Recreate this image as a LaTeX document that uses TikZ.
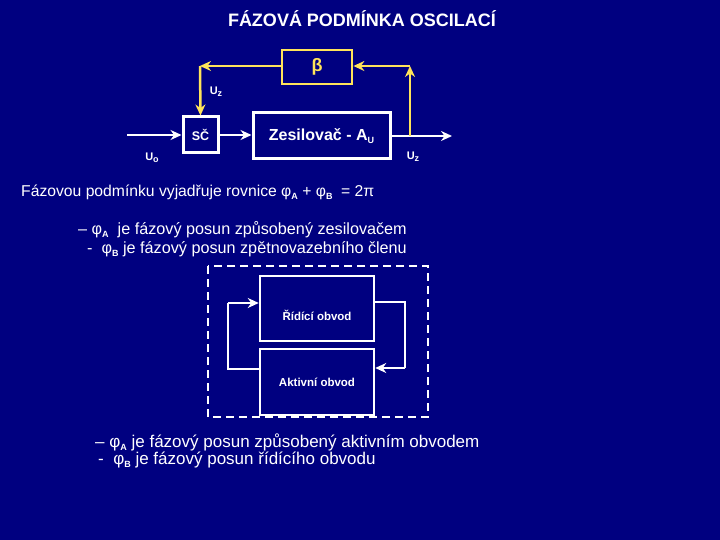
\documentclass[tikz,border=0pt]{standalone}
\usepackage{fontspec}
\setmainfont{Liberation Sans}
\usetikzlibrary{arrows.meta}
\definecolor{bg}{RGB}{0,0,128}
\definecolor{yel}{RGB}{255,228,90}
\newcommand\lsub[1]{\raisebox{-0.35ex}{\fontsize{9}{9}\selectfont\bfseries #1}}
\tikzset{
  wbox/.style={draw=white, line width=3pt, text=white, inner sep=0pt},
  ybox/.style={draw=yel, line width=2.8pt, text=yel, inner sep=0pt},
  wline/.style={draw=white, line width=2.5pt, -{Stealth[length=11pt,width=10pt]}},
  yline/.style={draw=yel, line width=2.5pt, -{Stealth[length=11pt,width=10pt]}},
  wplain/.style={draw=white, line width=2.5pt},
  lbl/.style={text=white, font=\bfseries\fontsize{11}{12}\selectfont, inner sep=0pt},
  txt/.style={text=white, anchor=west, inner sep=0pt, font=\fontsize{15.7}{17}\selectfont},
  txtb/.style={text=white, anchor=west, inner sep=0pt, font=\fontsize{16.2}{17}\selectfont},
  txtc/.style={text=white, anchor=west, inner sep=0pt, font=\fontsize{17}{18}\selectfont},
  small/.style={text=white, font=\bfseries\fontsize{11.5}{13}\selectfont, inner sep=0pt},
}
\begin{document}
\begin{tikzpicture}[x=1pt,y=-1pt]
\fill[bg] (0,0) rectangle (720,540);
\useasboundingbox (0,0) rectangle (720,540);

\node[text=white, font=\bfseries\fontsize{18}{20}\selectfont, inner sep=0pt] (title) at (362,19) {FÁZOVÁ PODMÍNKA OSCILACÍ};

% first block diagram
\node[ybox, minimum width=70pt, minimum height=34pt, font=\bfseries\fontsize{18}{20}\selectfont] (beta) at (317,67) {β};
\node[wbox, minimum width=35pt, minimum height=36pt, font=\bfseries\fontsize{12.5}{14}\selectfont] (sc) at (200.5,135) {SČ};
\node[wbox, minimum width=137pt, minimum height=46pt, font=\bfseries\fontsize{16}{18}\selectfont] (zes) at (321.5,136) {Zesilovač - A\lsub{U}};

\coordinate (in) at (127,135);
\coordinate (out) at (452,136);
\coordinate (tap) at (410,136);
\coordinate (cr) at (410,66);
\coordinate (cl) at (200,66);

\draw[wline] (in) -- (sc.west);
\draw[wline] (sc.east) -- (zes.west |- sc.east);
\draw[wline] (zes.east) -- (out);
\draw[yline] (tap) -- (cr);
\draw[yline] (cr) -- (beta.east |- cr);
\draw[yline] (beta.west |- cl) -- (cl);
\draw[yline] (cl) -- (sc.north);

\node[lbl] (uz1) at (216,92) {U\lsub{z}};
\node[lbl] (uo) at (152,158) {U\lsub{o}};
\node[lbl] (uz2) at (413,157) {U\lsub{z}};

% text
\node[txt] (t1) at (21,192) {Fázovou podmínku vyjadřuje rovnice φ\lsub{A} + φ\lsub{B}\ \ = 2π};
\node[txtb] (t2) at (78,230) {– φ\lsub{A}\ \ je fázový posun způsobený zesilovačem};
\node[txtb] (t3) at (87,249) {-\ \ φ\lsub{B} je fázový posun zpětnovazebního členu};

% second diagram
\draw[white, line width=2.8pt, dash pattern=on 8pt off 5pt] (208,266) rectangle (428,417);
\node[wbox, line width=2.5pt, minimum width=114pt, minimum height=65pt] (ridici) at (317,308.5) {};
\node[small] (lr) at (317,315) {Řídící obvod};
\node[wbox, line width=2.5pt, minimum width=114pt, minimum height=66pt] (aktiv) at (317,382) {};
\node[small] (la) at (317,382) {Aktivní obvod};

\coordinate (l1) at (228,369);
\coordinate (l2) at (228,303);
\coordinate (r1) at (405,302);
\coordinate (r2) at (405,368);
\draw[wplain] (aktiv.west |- l1) -- (l1) -- (l2);
\draw[wline] (l2) -- (ridici.west |- l2);
\draw[wplain] (ridici.east |- r1) -- (r1) -- (r2);
\draw[wline] (r2) -- (aktiv.east |- r2);

\node[txtc] (b1) at (95,442) {– φ\lsub{A} je fázový posun způsobený aktivním obvodem};
\node[txtc] (b2) at (98,460) {-\ \ φ\lsub{B} je fázový posun řídícího obvodu};
\end{tikzpicture}
\end{document}
